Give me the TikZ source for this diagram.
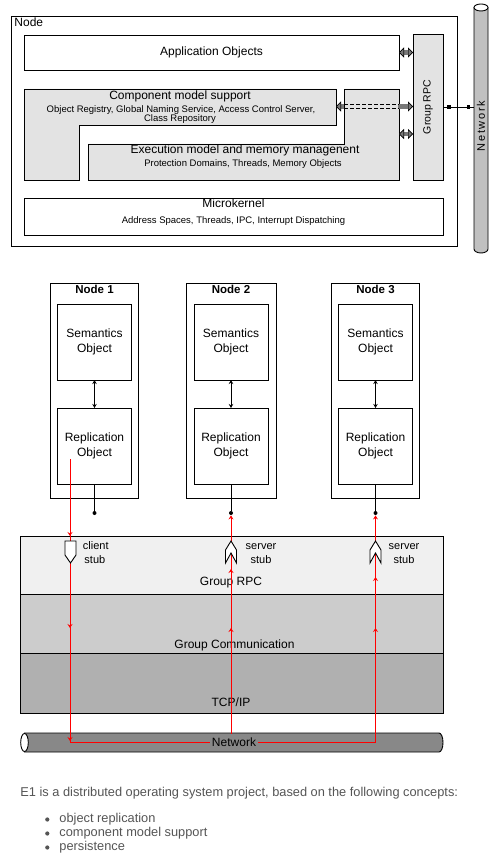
\documentclass[tikz,border=0pt]{standalone}
\usepackage{fontspec}
\setmainfont{Liberation Sans}
\newfontfamily\netfont[LetterSpace=15]{Liberation Sans}
\usetikzlibrary{arrows.meta,decorations.markings}
\definecolor{lgray}{RGB}{227,227,227}
\definecolor{netvgray}{RGB}{192,192,192}
\definecolor{arrgray}{RGB}{120,120,120}
\definecolor{rpcfill}{RGB}{240,240,240}
\definecolor{gcfill}{RGB}{204,204,204}
\definecolor{tcpfill}{RGB}{176,176,176}
\definecolor{nethfill}{RGB}{136,136,136}
\definecolor{txtgray}{RGB}{85,85,85}
\definecolor{redline}{RGB}{255,0,0}
\newcommand\fTop{\fontsize{12}{14}\selectfont}
\newcommand\fSub{\fontsize{9.5}{11}\selectfont}
\newcommand\fObj{\fontsize{12}{15}\selectfont}
\newcommand\fStub{\fontsize{11}{13}\selectfont}
\begin{document}
\begin{tikzpicture}[x=1pt,y=-1pt,line width=0.9pt,
  box/.style={draw,inner sep=0pt,outer sep=0pt,anchor=north west},
  objbox/.style={draw,fill=white,inner sep=0pt,outer sep=0pt,minimum width=74pt,minimum height=76pt,align=center,font=\fObj},
  fattip/.tip={Triangle[length=5pt,width=10pt,line width=0.6pt,color=black,fill=arrgray]},
  fatarrow/.style={draw=arrgray,line width=4.5pt,fattip-fattip},
  sqends/.style={postaction={decorate},decoration={markings,
     mark=at position 6pt with {\fill[black] (-1.7pt,-1.7pt) rectangle (1.7pt,1.7pt);},
     mark=at position -5pt with {\fill[black] (-1.7pt,-1.7pt) rectangle (1.7pt,1.7pt);}}},
  dblarrow/.style={{Stealth[length=4pt,width=4.5pt]}-{Stealth[length=4pt,width=4.5pt]}},
  dotnode/.style={circle,fill=black,inner sep=0pt,minimum size=4pt},
  redtip/.tip={Stealth[length=4pt,width=5pt,inset=1.5pt]},
  redpath/.style={draw=redline,line width=1pt},
  layerlbl/.style={anchor=base,font=\fTop,inner sep=0pt},
  stubshape/.style={draw=black,fill=white,line width=0.9pt},
  body/.style={anchor=base west,inner sep=0pt,text=txtgray,font=\fontsize{12.8}{15}\selectfont},
  bullet/.style={circle,fill=txtgray,inner sep=0pt,minimum size=4.2pt}
]
\useasboundingbox[fill=white] (0,0) rectangle (498,866);

% ---------------- top: node architecture ----------------
\node[box,minimum width=446pt,minimum height=230pt] (nodebox) at (11,16) {};
\node[anchor=base west,inner sep=0pt,font=\fTop] (nodelbl) at (14,27) {Node};

\node[box,fill=white,minimum width=375pt,minimum height=35pt,font=\fTop] (app) at (24,35) {Application Objects};

\draw[fill=lgray] (24,89) -- (336,89) -- (336,125) -- (79,125) -- (79,180) -- (24,180) -- cycle;
\node[anchor=base,inner sep=0pt,font=\fTop] (comp) at (180,100) {Component model support};
\node[anchor=base,inner sep=0pt,font=\fSub] (compa) at (181,113) {Object Registry, Global Naming Service, Access Control Server,};
\node[anchor=base,inner sep=0pt,font=\fSub] (compb) at (180,122) {Class Repository};

\draw[fill=lgray] (344,89) -- (399,89) -- (399,180) -- (88,180) -- (88,144) -- (344,144) -- cycle;
\node[anchor=base,inner sep=0pt,font=\fTop] (exec) at (245,154) {Execution model and memory managenent};
\node[anchor=base,inner sep=0pt,font=\fSub] (execa) at (243,167) {Protection Domains, Threads, Memory Objects};

\node[box,fill=white,minimum width=419pt,minimum height=37pt] (mk) at (24,198) {};
\node[anchor=base,inner sep=0pt,font=\fTop] (mkl) at (233.5,207.5) {Microkernel};
\node[anchor=base,inner sep=0pt,font=\fSub] (mka) at (233.5,224) {Address Spaces, Threads, IPC, Interrupt Dispatching};

\node[box,fill=lgray,minimum width=30pt,minimum height=146pt] (grpc) at (413,34) {};
\node[rotate=90,inner sep=0pt,font=\fontsize{10.5}{12}\selectfont] (grpcl) at (grpc.center) {Group RPC};

% vertical network cylinder
\node[inner sep=0pt,minimum width=14pt,minimum height=249pt] (netv) at (481,128.5) {};
\draw[fill=netvgray] (474,7.5) -- (474,249) arc[start angle=180,end angle=0,x radius=7,y radius=4] -- (488,7.5) -- cycle;
\draw[fill=white] (481,7.5) ellipse[x radius=7,y radius=3.5];
\node[rotate=90,inner sep=0pt,font=\netfont\fontsize{11}{13}\selectfont] (netvl) at (481,126) {Network};

% connectors to Group RPC
\draw[fatarrow] (app.east) -- (app.east -| grpc.west);
\coordinate (compE) at (336,106.5);
\draw[fatarrow] (compE) -- (compE -| grpc.west);
\fill[lgray] (344.6,103) rectangle (398.4,110);
\draw[dashed,dash pattern=on 4pt off 2pt,line width=0.8pt] (344,104.5) -- (399,104.5);
\draw[dashed,dash pattern=on 4pt off 2pt,line width=0.8pt] (344,108.5) -- (399,108.5);
\draw (344,101) -- (344,112);
\coordinate (execE) at (399,134);
\draw[fatarrow] (execE) -- (execE -| grpc.west);

\coordinate (rpcN) at (443,107);
\draw[sqends] (rpcN) -- (rpcN -| netv.west);

% ---------------- middle: replicated nodes ----------------
\node[box,minimum width=88pt,minimum height=215pt] (n1) at (50,283) {};
\node[box,minimum width=90pt,minimum height=215pt] (n2) at (186,283) {};
\node[box,minimum width=88pt,minimum height=215pt] (n3) at (331.5,283) {};
\node[anchor=base,inner sep=0pt,font=\bfseries\fontsize{11.5}{13}\selectfont] (n1l) at (94.5,294) {Node 1};
\node[anchor=base,inner sep=0pt,font=\bfseries\fontsize{11.5}{13}\selectfont] (n2l) at (231,294) {Node 2};
\node[anchor=base,inner sep=0pt,font=\bfseries\fontsize{11.5}{13}\selectfont] (n3l) at (375.5,294) {Node 3};

\node[objbox] (s1) at (94.5,342) {Semantics\\Object};
\node[objbox] (s2) at (231,342) {Semantics\\Object};
\node[objbox] (s3) at (375.5,342) {Semantics\\Object};
\node[objbox] (r1) at (94.5,446) {Replication\\Object};
\node[objbox] (r2) at (231,446) {Replication\\Object};
\node[objbox] (r3) at (375.5,446) {Replication\\Object};

\draw[dblarrow] (s1) -- (r1);
\draw[dblarrow] (s2) -- (r2);
\draw[dblarrow] (s3) -- (r3);

\node[dotnode] (d1) at (94.5,513) {};
\node[dotnode] (d2) at (231,513) {};
\node[dotnode] (d3) at (375.5,513) {};
\draw (r1) -- (d1);
\draw (r2) -- (d2);
\draw (r3) -- (d3);

% ---------------- layers ----------------
\node[box,fill=rpcfill,minimum width=423pt,minimum height=58pt] (rpcL) at (20,536) {};
\node[box,fill=gcfill,minimum width=423pt,minimum height=59pt] (gcL) at (20,594) {};
\node[box,fill=tcpfill,minimum width=423pt,minimum height=60pt] (tcpL) at (20,653) {};
\node[layerlbl] (rpcLl) at (231,585) {Group RPC};
\node[layerlbl] (gcLl) at (234.5,648.3) {Group Communication};
\node[layerlbl] (tcpLl) at (231,706) {TCP/IP};

% horizontal network cylinder
\node[inner sep=0pt,minimum width=423pt,minimum height=19pt] (neth) at (231.5,742.5) {};
\draw[fill=nethfill] (24.5,733) -- (439,733) arc[start angle=-90,end angle=90,x radius=4,y radius=9.5] -- (24.5,752) -- cycle;
\draw[fill=white] (24.5,742.5) ellipse[x radius=3.8,y radius=9];

% red message paths
\coordinate (cs) at (70,459);
\coordinate (c1) at (70,742);
\coordinate (c2) at (231,742);
\coordinate (c3) at (375.5,742);
\draw[redpath,-redtip,postaction={decorate},decoration={markings,
   mark=at position 77pt with {\arrow{redtip}},
   mark=at position 169pt with {\arrow{redtip}},
   mark=at position 282pt with {\arrow{redtip}},
   mark=at position 702.5pt with {\arrow{redtip}},
   mark=at position 753.5pt with {\arrow{redtip}}}]
   (cs) -- (c1) -- (c3) -- (d3);
\draw[redpath,-redtip,postaction={decorate},decoration={markings,
   mark=at position 114pt with {\arrow{redtip}},
   mark=at position 173pt with {\arrow{redtip}}}]
   (c2) -- (d2);

\node[fill=nethfill,inner xsep=1.5pt,inner ysep=4pt,font=\fTop] (nethl) at (234,742.5) {Network};

% stubs
\draw[stubshape] (65,541) -- (76,541) -- (76,555) -- (70.5,563) -- (65,555) -- cycle;
\draw[stubshape] (225.5,563) -- (225.5,550) -- (231,541) -- (236.5,550) -- (236.5,563) -- (231,553) -- cycle;
\draw[stubshape] (370,563) -- (370,550) -- (375.5,541) -- (381,550) -- (381,563) -- (375.5,553) -- cycle;
\node[anchor=base west,inner sep=0pt,font=\fStub] (cl1) at (82.5,549.3) {client};
\node[anchor=base west,inner sep=0pt,font=\fStub] (cl2) at (84,563.3) {stub};
\node[anchor=base,inner sep=0pt,font=\fStub] (sa1) at (261,549.3) {server};
\node[anchor=base,inner sep=0pt,font=\fStub] (sa2) at (261,563.3) {stub};
\node[anchor=base,inner sep=0pt,font=\fStub] (sb1) at (404,549.3) {server};
\node[anchor=base,inner sep=0pt,font=\fStub] (sb2) at (404,563.3) {stub};

% ---------------- text below ----------------
\node[body] (intro) at (20,796) {E1 is a distributed operating system project, based on the following concepts:};
\node[bullet] (bu1) at (47.3,819.5) {};
\node[bullet] (bu2) at (47.3,833.5) {};
\node[bullet] (bu3) at (47.3,847.5) {};
\node[body] (it1) at (59,822.7) {object replication};
\node[body] (it2) at (59,836.7) {component model support};
\node[body] (it3) at (59,850.7) {persistence};
\end{tikzpicture}
\end{document}
